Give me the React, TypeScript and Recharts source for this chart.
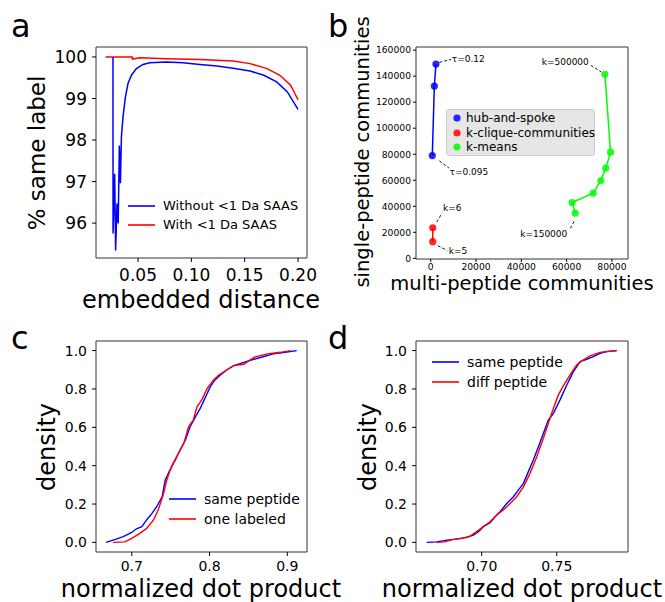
import {
  LineChart,
  Line,
  ScatterChart,
  Scatter,
  XAxis,
  YAxis,
  ReferenceArea,
  ReferenceLine,
  ReferenceDot,
} from "recharts";

const FONT  = "'DejaVu Sans', sans-serif";
const BLUE  = "#0000ff";
const RED   = "#ff0000";
const LIME  = "#00ff00";
const INK   = "#000000";
const FRAME = "#333333";

// panel a: % same label vs embedded distance
const aWithoutX = [0.0265, 0.0266, 0.0281, 0.029, 0.0303, 0.0314, 0.0325, 0.0335, 0.0344, 0.0359, 0.0382, 0.0406, 0.0438, 0.0485, 0.0547, 0.061, 0.0767, 0.092, 0.108, 0.124, 0.139, 0.155, 0.168, 0.18, 0.19, 0.2];
const aWithoutY = [100, 95.75, 97.19, 95.34, 96.47, 95.99, 97.87, 96.96, 98.07, 98.55, 99.04, 99.36, 99.56, 99.72, 99.82, 99.86, 99.88, 99.86, 99.82, 99.78, 99.73, 99.66, 99.56, 99.4, 99.16, 98.74];
const aWithX = [0.0196, 0.0447, 0.0449, 0.0516, 0.0767, 0.108, 0.139, 0.155, 0.171, 0.183, 0.193, 0.2];
const aWithY = [100, 100, 99.95, 99.98, 99.96, 99.94, 99.9, 99.84, 99.72, 99.56, 99.32, 98.97];
const aXTicks = [0.05, 0.1, 0.15, 0.2];
const aYTicks = [96, 97, 98, 99, 100];

// panel b: community counts
const hubX = [2300, 1600, 700];
const hubY = [149300, 132400, 79000];
const cliqueX = [900, 900];
const cliqueY = [23500, 12800];
const kmeansX = [76900, 79400, 77300, 75100, 71700, 62400, 63800];
const kmeansY = [141400, 81600, 69300, 59800, 50100, 42900, 34800];
const bXTicks = [0, 20000, 40000, 60000, 80000];
const bYTicks = [0, 20000, 40000, 60000, 80000, 100000, 120000, 140000, 160000];

// panel c: cumulative density, same peptide vs one labeled
const cSameX = [0.667, 0.679, 0.689, 0.7, 0.706, 0.713, 0.719, 0.726, 0.732, 0.739, 0.743, 0.749, 0.756, 0.762, 0.769, 0.775, 0.782, 0.788, 0.794, 0.801, 0.807, 0.814, 0.822, 0.831, 0.844, 0.857, 0.87, 0.882, 0.895, 0.912];
const cSameY = [0, 0.016, 0.03, 0.052, 0.071, 0.082, 0.117, 0.151, 0.186, 0.238, 0.325, 0.377, 0.43, 0.482, 0.534, 0.603, 0.656, 0.699, 0.751, 0.812, 0.847, 0.873, 0.899, 0.922, 0.939, 0.955, 0.969, 0.983, 0.99, 1];
const cLabeledX = [0.676, 0.691, 0.7, 0.709, 0.719, 0.728, 0.734, 0.741, 0.745, 0.751, 0.76, 0.767, 0.773, 0.779, 0.784, 0.79, 0.797, 0.805, 0.812, 0.822, 0.831, 0.844, 0.857, 0.874, 0.891, 0.904];
const cLabeledY = [0, 0.003, 0.021, 0.043, 0.073, 0.117, 0.169, 0.256, 0.325, 0.395, 0.464, 0.517, 0.603, 0.638, 0.708, 0.743, 0.803, 0.847, 0.873, 0.899, 0.922, 0.929, 0.965, 0.983, 0.991, 1];
const cXTicks = [0.7, 0.8, 0.9];

// panel d: cumulative density, same peptide vs diff peptide
const dSameX = [0.6633, 0.67, 0.6767, 0.6833, 0.69, 0.6944, 0.6978, 0.7011, 0.7056, 0.7089, 0.7122, 0.7167, 0.7211, 0.7244, 0.7278, 0.7311, 0.7344, 0.7378, 0.7411, 0.7444, 0.7478, 0.7522, 0.7567, 0.7611, 0.7656, 0.77, 0.7744, 0.7789, 0.7833, 0.79];
const dSameY = [0, 0.003, 0.012, 0.017, 0.026, 0.038, 0.056, 0.082, 0.103, 0.134, 0.16, 0.203, 0.238, 0.273, 0.308, 0.369, 0.43, 0.499, 0.569, 0.638, 0.673, 0.743, 0.821, 0.89, 0.943, 0.955, 0.969, 0.986, 0.995, 1];
const dDiffX = [0.67, 0.6756, 0.6811, 0.6878, 0.6922, 0.6967, 0.7011, 0.7056, 0.71, 0.7144, 0.7189, 0.7233, 0.7278, 0.7322, 0.7367, 0.7411, 0.7444, 0.7478, 0.7511, 0.7544, 0.7589, 0.7633, 0.7667, 0.7722, 0.7789, 0.79];
const dDiffY = [0, 0.003, 0.016, 0.023, 0.033, 0.056, 0.082, 0.108, 0.143, 0.169, 0.203, 0.238, 0.29, 0.36, 0.447, 0.543, 0.621, 0.699, 0.769, 0.816, 0.873, 0.925, 0.946, 0.972, 0.991, 1];
const dXTicks = [0.7, 0.75];
const densityTicks = [0, 0.2, 0.4, 0.6, 0.8, 1];

const zip = (xs: number[], ys: number[]) => xs.map((x, i) => ({ x, y: ys[i] }));

// annotation text + dashed leader lines for panel b (data coords)
const bNotes = [
  { text: "τ=0.12",   at: [9300, 153100],  anchor: "start", from: [3800, 150600], to: [9000, 152800] },
  { text: "τ=0.095",  at: [8300, 66500],   anchor: "start", from: [3800, 74900],  to: [8100, 69300] },
  { text: "k=500000", at: [69800, 150800], anchor: "end",   from: [70700, 148300], to: [75300, 143200] },
  { text: "k=6",      at: [5400, 38900],   anchor: "start", from: [2650, 27900],  to: [5000, 34800] },
  { text: "k=5",      at: [8000, 5900],    anchor: "start", from: [3100, 9700],   to: [7300, 6100] },
  { text: "k=150000", at: [60300, 18900],  anchor: "end",   from: [63300, 28400], to: [61300, 22000] },
];

function Txt({ x, y, size, children, rotate }: { x: number; y: number; size: number; children: React.ReactNode; rotate?: boolean }) {
  return (
    <div style={{
      position: "absolute", left: x, top: y, fontSize: size, lineHeight: 1, whiteSpace: "nowrap",
      transform: `translate(-50%, -50%)${rotate ? " rotate(-90deg)" : ""}`, color: INK,
    }}>
      {children}
    </div>
  );
}

function LineKey({ left, top, rowH, size, items }: { left: number; top: number; rowH: number; size: number; items: { label: string; color: string }[] }) {
  return (
    <div style={{ position: "absolute", left, top, fontSize: size, lineHeight: 1 }}>
      {items.map((it) => (
        <div key={it.label} style={{ display: "flex", alignItems: "center", height: rowH, whiteSpace: "nowrap" }}>
          <svg width={35} height={4} style={{ flex: "none" }}>
            <line x1={0} x2={27} y1={2} y2={2} stroke={it.color} strokeWidth={1.6} />
          </svg>
          <span>{it.label}</span>
        </div>
      ))}
    </div>
  );
}

function PanelA() {
  const tick = { fill: INK, fontSize: 17, fontFamily: FONT };
  return (
    <div style={{ position: "absolute", left: 0, top: 0 }}>
      <LineChart width={330} height={300} margin={{ top: 47, right: 23, left: 36, bottom: 12 }}>
        <XAxis type="number" dataKey="x" domain={[0.0106, 0.2084]} ticks={aXTicks} allowDataOverflow
          tickFormatter={(v: number) => v.toFixed(2)} tick={tick} tickSize={4} tickMargin={7}
          axisLine={false} tickLine={{ stroke: INK }} height={30} />
        <YAxis type="number" dataKey="y" domain={[95.16, 100.24]} ticks={aYTicks} allowDataOverflow
          tick={tick} tickSize={4} tickMargin={5} axisLine={false} tickLine={{ stroke: INK }} width={60} />
        <ReferenceArea x1={0.0106} x2={0.2084} y1={95.16} y2={100.24} fill="none" stroke={FRAME} strokeWidth={1} />
        <Line data={zip(aWithX, aWithY)} dataKey="y" stroke={RED} strokeWidth={1.5} dot={false} isAnimationActive={false} />
        <Line data={zip(aWithoutX, aWithoutY)} dataKey="y" stroke={BLUE} strokeWidth={1.5} dot={false} isAnimationActive={false} />
      </LineChart>
    </div>
  );
}

function PanelB() {
  const tick = { fill: INK, fontSize: 9.2, fontFamily: FONT };
  const dot = (color: string) => (p: any) => <circle cx={p.cx} cy={p.cy} r={3.6} fill={color} fillOpacity={0.85} />;
  return (
    <div style={{ position: "absolute", left: 330, top: 0 }}>
      <ScatterChart width={335} height={300} margin={{ top: 47, right: 37, left: 36, bottom: 11 }}>
        <XAxis type="number" dataKey="x" domain={[-6500, 87100]} ticks={bXTicks} allowDataOverflow
          tick={tick} tickSize={3} tickMargin={1} axisLine={false} tickLine={{ stroke: INK }} height={30} />
        <YAxis type="number" dataKey="y" domain={[-500, 162400]} ticks={bYTicks} allowDataOverflow
          tick={tick} tickSize={3} tickMargin={2} axisLine={false} tickLine={{ stroke: INK }} width={50} />
        <ReferenceArea x1={-6500} x2={87100} y1={-500} y2={162400} fill="none" stroke={FRAME} strokeWidth={1} />
        {bNotes.map((n) => (
          <ReferenceLine key={n.text + "l"} segment={[{ x: n.from[0], y: n.from[1] }, { x: n.to[0], y: n.to[1] }]}
            stroke={INK} strokeWidth={0.9} strokeDasharray="3 2" />
        ))}
        <Scatter data={zip(hubX, hubY)} fill={BLUE} line={{ stroke: BLUE, strokeWidth: 1.5 }} shape={dot(BLUE)} isAnimationActive={false} />
        <Scatter data={zip(cliqueX, cliqueY)} fill={RED} line={{ stroke: RED, strokeWidth: 1.5 }} shape={dot(RED)} isAnimationActive={false} />
        <Scatter data={zip(kmeansX, kmeansY)} fill={LIME} line={{ stroke: LIME, strokeWidth: 1.5 }} shape={dot(LIME)} isAnimationActive={false} />
        {bNotes.map((n) => (
          <ReferenceDot key={n.text} x={n.at[0]} y={n.at[1]} r={0}
            shape={(p: any) => (
              <text x={p.cx} y={p.cy} textAnchor={n.anchor as any} dominantBaseline="central"
                fontSize={9} fontFamily={FONT} fill={INK}>{n.text}</text>
            )} />
        ))}
      </ScatterChart>
    </div>
  );
}

function CdfPanel({ left, top, sameX, sameY, otherX, otherY, xDom, xTicks, digits }: {
  left: number; top: number; sameX: number[]; sameY: number[]; otherX: number[]; otherY: number[];
  xDom: [number, number]; xTicks: number[]; digits: number;
}) {
  const tick = { fill: INK, fontSize: 14, fontFamily: FONT };
  const right = left === 0 ? 23 : 37;
  const yw = left === 0 ? 60 : 50;
  const w = left === 0 ? 330 : 335;
  return (
    <div style={{ position: "absolute", left, top }}>
      <LineChart width={w} height={300} margin={{ top: 41, right, left: 36, bottom: 18 }}>
        <XAxis type="number" dataKey="x" domain={xDom} ticks={xTicks} allowDataOverflow
          tickFormatter={(v: number) => v.toFixed(digits)} tick={tick} tickSize={4} tickMargin={5}
          axisLine={false} tickLine={{ stroke: INK }} height={30} />
        <YAxis type="number" dataKey="y" domain={[-0.05, 1.05]} ticks={densityTicks} allowDataOverflow
          tickFormatter={(v: number) => v.toFixed(1)} tick={tick} tickSize={4} tickMargin={5}
          axisLine={false} tickLine={{ stroke: INK }} width={yw} />
        <ReferenceArea x1={xDom[0]} x2={xDom[1]} y1={-0.05} y2={1.05} fill="none" stroke={FRAME} strokeWidth={1} />
        <Line data={zip(sameX, sameY)} dataKey="y" stroke={BLUE} strokeWidth={1.4} dot={false} isAnimationActive={false} />
        <Line data={zip(otherX, otherY)} dataKey="y" stroke={RED} strokeWidth={1.4} dot={false} isAnimationActive={false} />
      </LineChart>
    </div>
  );
}

export default function App() {
  return (
    <div style={{ position: "absolute", left: 0, top: 0, width: 665, height: 602, background: "#fff", fontFamily: FONT, overflow: "hidden" }}>
      <PanelA />
      <PanelB />
      <CdfPanel left={0} top={300} sameX={cSameX} sameY={cSameY} otherX={cLabeledX} otherY={cLabeledY}
        xDom={[0.654, 0.9253]} xTicks={cXTicks} digits={1} />
      <CdfPanel left={330} top={300} sameX={dSameX} sameY={dSameY} otherX={dDiffX} otherY={dDiffY}
        xDom={[0.6562, 0.7975]} xTicks={dXTicks} digits={2} />

      {/* panel letters */}
      <div style={{ position: "absolute", left: 11, top: 10, fontSize: 32, lineHeight: 1 }}>a</div>
      <div style={{ position: "absolute", left: 328, top: 10, fontSize: 32, lineHeight: 1 }}>b</div>
      <div style={{ position: "absolute", left: 11, top: 322, fontSize: 32, lineHeight: 1 }}>c</div>
      <div style={{ position: "absolute", left: 328, top: 322, fontSize: 32, lineHeight: 1 }}>d</div>

      {/* axis titles */}
      <Txt x={37} y={153} size={23} rotate>% same label</Txt>
      <Txt x={201} y={300} size={24}>embedded distance</Txt>
      <Txt x={363} y={152} size={19.5} rotate>single-peptide communities</Txt>
      <Txt x={522} y={284} size={19.5}>multi-peptide communities</Txt>
      <Txt x={47} y={447} size={24} rotate>density</Txt>
      <Txt x={201} y={589} size={24}>normalized dot product</Txt>
      <Txt x={368} y={447} size={24} rotate>density</Txt>
      <Txt x={522} y={589} size={24}>normalized dot product</Txt>

      {/* legends */}
      <LineKey left={128} top={196} rowH={19} size={13} items={[
        { label: "Without <1 Da SAAS", color: BLUE },
        { label: "With <1 Da SAAS", color: RED },
      ]} />
      <div style={{ position: "absolute", left: 446, top: 109, width: 147, height: 45, background: "#e6e6e6",
        border: "1px solid #cccccc", borderRadius: 3, fontSize: 12, lineHeight: 1 }}>
        {[
          { label: "hub-and-spoke", color: BLUE },
          { label: "k-clique-communities", color: RED },
          { label: "k-means", color: LIME },
        ].map((it, i) => (
          <div key={it.label} style={{ position: "absolute", left: 5, top: 1 + i * 14.5, height: 14, display: "flex", alignItems: "center", whiteSpace: "nowrap" }}>
            <svg width={14} height={10} style={{ flex: "none" }}>
              <circle cx={5} cy={5} r={3.6} fill={it.color} fillOpacity={0.85} />
            </svg>
            <span>{it.label}</span>
          </div>
        ))}
      </div>
      <LineKey left={169} top={489} rowH={20} size={14} items={[
        { label: "same peptide", color: BLUE },
        { label: "one labeled", color: RED },
      ]} />
      <LineKey left={432} top={352} rowH={20} size={14} items={[
        { label: "same peptide", color: BLUE },
        { label: "diff peptide", color: RED },
      ]} />
    </div>
  );
}
